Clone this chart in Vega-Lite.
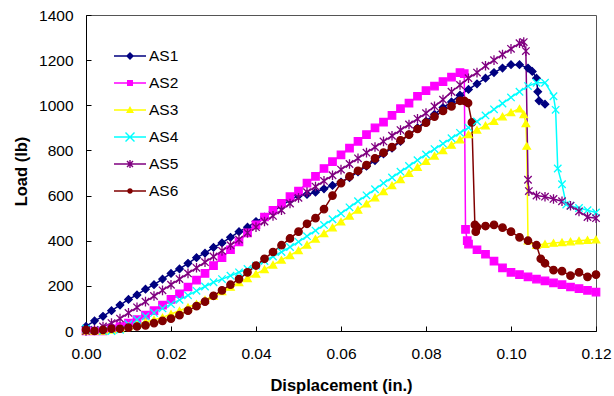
{
"$schema": "https://vega.github.io/schema/vega-lite/v6.json",
"width": 510, "height": 316,
"autosize": {"type": "none"},
"padding": {"left": 86, "top": 15, "right": 18, "bottom": 65},
"background": "white",
"config": {"view": {"stroke": "#555555", "strokeWidth": 1}, "font": "Liberation Sans"},
"data": {"values": [
{"x":0,"AS1":20,"AS2":0,"AS3":0,"AS4":10,"AS5":0,"AS6":5},
{"x":0.002,"AS1":45,"AS2":0,"AS3":0,"AS4":5,"AS5":5,"AS6":0},
{"x":0.004,"AS1":65,"AS2":0,"AS3":0,"AS4":0,"AS5":20,"AS6":5},
{"x":0.006,"AS1":90,"AS2":10,"AS3":5,"AS4":0,"AS5":35,"AS6":10},
{"x":0.008,"AS1":115,"AS2":20,"AS3":10,"AS4":5,"AS5":55,"AS6":10},
{"x":0.01,"AS1":140,"AS2":35,"AS3":20,"AS4":30,"AS5":80,"AS6":15},
{"x":0.012,"AS1":160,"AS2":50,"AS3":30,"AS4":50,"AS5":105,"AS6":20},
{"x":0.014,"AS1":185,"AS2":70,"AS3":40,"AS4":65,"AS5":130,"AS6":25},
{"x":0.016,"AS1":205,"AS2":90,"AS3":50,"AS4":80,"AS5":155,"AS6":35},
{"x":0.018,"AS1":230,"AS2":115,"AS3":60,"AS4":100,"AS5":180,"AS6":45},
{"x":0.02,"AS1":255,"AS2":140,"AS3":75,"AS4":119,"AS5":205,"AS6":55},
{"x":0.022,"AS1":275,"AS2":165,"AS3":90,"AS4":138,"AS5":230,"AS6":70},
{"x":0.024,"AS1":300,"AS2":195,"AS3":105,"AS4":158,"AS5":255,"AS6":90},
{"x":0.026,"AS1":325,"AS2":225,"AS3":120,"AS4":178,"AS5":280,"AS6":110},
{"x":0.028,"AS1":345,"AS2":255,"AS3":138,"AS4":197,"AS5":305,"AS6":130},
{"x":0.03,"AS1":370,"AS2":290,"AS3":156,"AS4":216,"AS5":330,"AS6":156},
{"x":0.032,"AS1":390,"AS2":325,"AS3":175,"AS4":230,"AS5":355,"AS6":180},
{"x":0.034,"AS1":415,"AS2":360,"AS3":195,"AS4":245,"AS5":380,"AS6":205},
{"x":0.036,"AS1":440,"AS2":395,"AS3":215,"AS4":260,"AS5":405,"AS6":230},
{"x":0.038,"AS1":460,"AS2":435,"AS3":233,"AS4":275,"AS5":435,"AS6":260},
{"x":0.04,"AS1":485,"AS2":470,"AS3":253,"AS4":290,"AS5":460,"AS6":290},
{"x":0.042,"AS1":505,"AS2":505,"AS3":273,"AS4":310,"AS5":485,"AS6":320},
{"x":0.044,"AS1":530,"AS2":535,"AS3":293,"AS4":330,"AS5":510,"AS6":350},
{"x":0.046,"AS1":555,"AS2":565,"AS3":315,"AS4":350,"AS5":535,"AS6":380},
{"x":0.048,"AS1":580,"AS2":595,"AS3":335,"AS4":372,"AS5":565,"AS6":410},
{"x":0.05,"AS1":600,"AS2":620,"AS3":357,"AS4":395,"AS5":590,"AS6":440},
{"x":0.052,"AS1":605,"AS2":655,"AS3":382,"AS4":420,"AS5":615,"AS6":475},
{"x":0.054,"AS1":615,"AS2":685,"AS3":408,"AS4":445,"AS5":640,"AS6":500},
{"x":0.056,"AS1":630,"AS2":720,"AS3":432,"AS4":470,"AS5":665,"AS6":540},
{"x":0.058,"AS1":645,"AS2":750,"AS3":458,"AS4":495,"AS5":690,"AS6":600},
{"x":0.06,"AS1":660,"AS2":780,"AS3":484,"AS4":521,"AS5":715,"AS6":655},
{"x":0.062,"AS1":680,"AS2":810,"AS3":510,"AS4":548,"AS5":740,"AS6":685},
{"x":0.064,"AS1":705,"AS2":840,"AS3":537,"AS4":575,"AS5":765,"AS6":710},
{"x":0.066,"AS1":730,"AS2":870,"AS3":564,"AS4":601,"AS5":790,"AS6":735},
{"x":0.068,"AS1":755,"AS2":900,"AS3":591,"AS4":628,"AS5":815,"AS6":765},
{"x":0.07,"AS1":785,"AS2":925,"AS3":618,"AS4":655,"AS5":840,"AS6":790},
{"x":0.072,"AS1":810,"AS2":955,"AS3":645,"AS4":680,"AS5":865,"AS6":815},
{"x":0.074,"AS1":840,"AS2":985,"AS3":672,"AS4":706,"AS5":890,"AS6":845},
{"x":0.076,"AS1":870,"AS2":1010,"AS3":699,"AS4":731,"AS5":915,"AS6":870},
{"x":0.078,"AS1":900,"AS2":1040,"AS3":726,"AS4":757,"AS5":940,"AS6":895},
{"x":0.08,"AS1":930,"AS2":1065,"AS3":752,"AS4":782,"AS5":965,"AS6":923},
{"x":0.082,"AS1":960,"AS2":1085,"AS3":776,"AS4":806,"AS5":995,"AS6":950},
{"x":0.084,"AS1":990,"AS2":1105,"AS3":800,"AS4":830,"AS5":1025,"AS6":975},
{"x":0.086,"AS1":1015,"AS2":1125,"AS3":824,"AS4":854,"AS5":1060,"AS6":995},
{"x":0.088,"AS1":1045,"AS2":1145,"AS3":848,"AS4":878,"AS5":1090,"AS6":1020},
{"x":0.089,"AS2":1140,"AS6":1020},
{"x":0.0893,"AS2":450},
{"x":0.0897,"AS2":400},
{"x":0.0899,"AS6":1010},
{"x":0.09,"AS1":1070,"AS2":385,"AS3":871,"AS4":901,"AS5":1120},
{"x":0.0908,"AS6":924},
{"x":0.0915,"AS6":470},
{"x":0.0917,"AS6":440},
{"x":0.092,"AS1":1095,"AS2":360,"AS3":891,"AS4":928,"AS5":1145,"AS6":460},
{"x":0.094,"AS1":1120,"AS2":340,"AS3":910,"AS4":955,"AS5":1175,"AS6":465},
{"x":0.096,"AS1":1145,"AS2":310,"AS3":930,"AS4":982,"AS5":1200,"AS6":470},
{"x":0.098,"AS1":1165,"AS2":280,"AS3":950,"AS4":1008,"AS5":1225,"AS6":458},
{"x":0.1,"AS1":1180,"AS2":260,"AS3":968,"AS4":1035,"AS5":1250,"AS6":440},
{"x":0.102,"AS1":1180,"AS2":250,"AS3":985,"AS4":1060,"AS5":1275,"AS6":415},
{"x":0.103,"AS3":960,"AS5":1280},
{"x":0.1035,"AS3":920,"AS5":1240},
{"x":0.1037,"AS3":820},
{"x":0.104,"AS1":1165,"AS2":240,"AS3":400,"AS4":1085,"AS5":670,"AS6":400},
{"x":0.1042,"AS5":620},
{"x":0.105,"AS1":1150},
{"x":0.106,"AS1":1120,"AS2":230,"AS3":380,"AS4":1100,"AS5":600,"AS6":380},
{"x":0.1063,"AS1":1060},
{"x":0.1066,"AS1":1020},
{"x":0.107,"AS6":320},
{"x":0.108,"AS1":1005,"AS2":222,"AS3":385,"AS4":1100,"AS5":595,"AS6":300},
{"x":0.11,"AS2":213,"AS3":390,"AS4":1040,"AS5":585,"AS6":270},
{"x":0.1105,"AS4":980},
{"x":0.111,"AS4":720},
{"x":0.112,"AS2":205,"AS3":393,"AS4":650,"AS5":575,"AS6":265},
{"x":0.113,"AS4":560},
{"x":0.114,"AS2":195,"AS3":396,"AS4":555,"AS5":555,"AS6":245},
{"x":0.116,"AS2":188,"AS3":400,"AS4":545,"AS5":530,"AS6":260},
{"x":0.118,"AS2":180,"AS3":403,"AS4":535,"AS5":505,"AS6":240},
{"x":0.12,"AS2":172,"AS3":405,"AS4":525,"AS5":500,"AS6":250}
]},
"transform": [
{"fold": ["AS1","AS2","AS3","AS4","AS5","AS6"], "as": ["series","load"]},
{"filter": "isValid(datum.load)"}
],
"encoding": {
"x": {"field": "x", "type": "quantitative", "scale": {"domain": [0, 0.12], "nice": false, "zero": false},
 "axis": {"title": "Displacement (in.)", "values": [0,0.02,0.04,0.06,0.08,0.1,0.12], "format": ".2f", "grid": false,
  "labelFontSize": 15.5, "labelColor": "black", "labelFont": "Liberation Sans", "labelFlush": false, "labelOverlap": false, "labelPadding": 20,
  "tickSize": -5, "tickColor": "black", "domainColor": "black",
  "titleFontSize": 16.5, "titleFontWeight": "bold", "titleColor": "black", "titleFont": "Liberation Sans",
  "titleY": 59, "titleBaseline": "alphabetic"}},
"y": {"field": "load", "type": "quantitative", "scale": {"domain": [0, 1400], "nice": false},
 "axis": {"title": "Load (lb)", "values": [0,200,400,600,800,1000,1200,1400], "format": "d", "grid": false,
  "labelFontSize": 15.5, "labelColor": "black", "labelFont": "Liberation Sans", "labelFlush": false, "labelOverlap": false, "labelPadding": 18,
  "tickSize": -5, "tickColor": "black", "domainColor": "black",
  "titleFontSize": 16.5, "titleFontWeight": "bold", "titleColor": "black", "titleFont": "Liberation Sans",
  "titleX": -65, "titleY": 156, "titleAlign": "center", "titleBaseline": "middle"}}
},
"layer": [
{"mark": {"type": "line", "strokeWidth": 1.5},
 "encoding": {
  "color": {"field": "series", "type": "nominal", "legend": null,
   "scale": {"domain": ["AS1","AS2","AS3","AS4","AS5","AS6"], "range": ["#000080","#FF00FF","#FFFF00","#00FFFF","#800080","#800000"]}}
 }},
{"mark": {"type": "point", "filled": true, "size": 55, "strokeWidth": 1.3, "opacity": 1},
 "encoding": {
  "color": {"field": "series", "type": "nominal", "legend": null,
   "scale": {"domain": ["AS1","AS2","AS3","AS4","AS5","AS6"], "range": ["#000080","#FF00FF","#FFFF00","#00FFFF","#800080","#800000"]}},
  "shape": {"field": "series", "type": "nominal", "legend": null,
   "scale": {"domain": ["AS1","AS2","AS3","AS4","AS5","AS6"], "range": ["diamond","square","triangle-up","M-1,-1L1,1M-1,1L1,-1","M-1,-1L1,1M-1,1L1,-1M0,-1.3V1.3","circle"]}},
  "stroke": {"field": "series", "type": "nominal", "legend": null,
   "scale": {"domain": ["AS1","AS2","AS3","AS4","AS5","AS6"], "range": ["#000080","#FF00FF","#FFFF00","#00FFFF","#800080","#800000"]}}
 }},
{"transform": [{"filter": "datum.load < -1"}],
 "mark": {"type": "point", "filled": true, "size": 400, "strokeWidth": 1.5, "opacity": 1},
 "encoding": {
  "color": {"field": "series", "type": "nominal",
   "scale": {"domain": ["AS1","AS2","AS3","AS4","AS5","AS6"], "range": ["#000080","#FF00FF","#FFFF00","#00FFFF","#800080","#800000"]},
   "legend": {"orient": "none", "legendX": 33, "legendY": 30, "title": null, "padding": 0, "rowPadding": 7,
    "symbolSize": 400, "symbolOpacity": 1, "labelFontSize": 15.5, "labelOffset": 8, "labelColor": "black", "labelFont": "Liberation Sans"}},
  "shape": {"field": "series", "type": "nominal",
   "scale": {"domain": ["AS1","AS2","AS3","AS4","AS5","AS6"], "range": [
    "M-1.6,-0.075H1.6V0.075H-1.6Z M0,-0.4L0.4,0L0,0.4L-0.4,0Z",
    "M-1.6,-0.075H1.6V0.075H-1.6Z M-0.3,-0.3H0.3V0.3H-0.3Z",
    "M-1.6,-0.075H1.6V0.075H-1.6Z M0,-0.4L0.4,0.3H-0.4Z",
    "M-1.6,-0.075H1.6V0.075H-1.6Z M-0.4,-0.5L0.5,0.4L0.4,0.5L-0.5,-0.4Z M0.4,-0.5L0.5,-0.4L-0.4,0.5L-0.5,0.4Z",
    "M-1.6,-0.075H1.6V0.075H-1.6Z M-0.25,-0.35L0.35,0.25L0.25,0.35L-0.35,-0.25Z M0.25,-0.35L0.35,-0.25L-0.25,0.35L-0.35,0.25Z M-0.07,-0.4H0.07V0.4H-0.07Z",
    "M-1.6,-0.075H1.6V0.075H-1.6Z M-0.28,0A0.28,0.28 0 1,1 0.28,0A0.28,0.28 0 1,1 -0.28,0Z"]}}
 }}
],
"resolve": {"scale": {"shape": "independent", "color": "independent"}}
}
